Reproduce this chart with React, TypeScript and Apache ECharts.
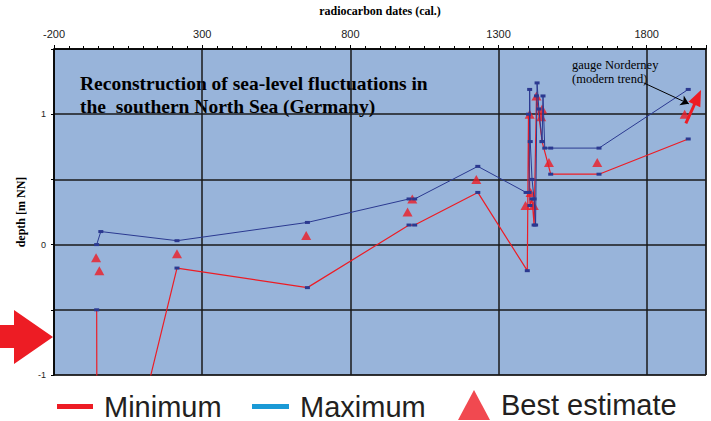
import React, { useEffect, useRef } from "react";
import * as echarts from "echarts";

// ---- data (years cal., depth m NN) ----
const minYears = [-56, -55, 73, 215, 655, 998, 1017, 1230, 1397, 1401, 1406, 1413, 1420, 1428, 1447, 1476, 1639, 1940];
const minDepths = [-0.5, -1.6, -1.5, -0.18, -0.33, 0.15, 0.15, 0.4, -0.2, 1.0, 0.3, 0.35, 0.15, 1.14, 0.79, 0.54, 0.54, 0.81];

const maxYears = [-56, -42, 215, 655, 998, 1017, 1230, 1393, 1403, 1405, 1407, 1413, 1420, 1425, 1430, 1436, 1447, 1450, 1456, 1476, 1639, 1940];
const maxDepths = [0.0, 0.1, 0.03, 0.17, 0.35, 0.35, 0.6, 0.4, 0.4, 1.19, 0.79, 0.5, 0.35, 0.15, 1.24, 1.04, 0.79, 1.14, 0.74, 0.74, 0.74, 1.19];

const bestYears = [-58, -47, 215, 651, 993, 1009, 1225, 1391, 1408, 1419, 1405, 1428, 1447, 1444, 1470, 1633, 1928];
const bestDepths = [-0.1, -0.2, -0.07, 0.07, 0.25, 0.35, 0.5, 0.3, 0.4, 0.3, 1.0, 1.14, 1.04, 0.98, 0.63, 0.63, 1.0];

// annotation arrows (year, depth)
const gaugeArrow = [[1790, 1.24], [1942, 1.08]];
const trendArrow = [[1932, 0.93], [1972, 1.13]];

const xTickLabels = ["-200", "300", "800", "1300", "1800"];
const yTickLabels = ["-1", "0", "1"];

const zip = (xs: number[], ys: number[]) => xs.map((x, i) => [x, ys[i]]);

export default function App() {
  const ref = useRef<HTMLDivElement>(null);
  useEffect(() => {
    if (!ref.current) return;
    const chart = echarts.init(ref.current, null, { renderer: "svg" });
    const navy = "#2b3990";
    const red = "#ed1c24";
    const gridC = "#1a1a1a";
    const serif = "'Liberation Serif', 'Times New Roman', serif";
    const legendText = { fontSize: 29, fontFamily: "Liberation Sans, Arial, sans-serif", color: "#231f20", padding: [0, 0, 0, 6] };
    chart.setOption({
      animation: false,
      backgroundColor: "#ffffff",
      grid: { left: 54, right: 5, top: 47, bottom: 46, show: true, backgroundColor: "#98b4da", borderColor: "#000", borderWidth: 1 },
      xAxis: [
        { type: "value", min: -200, max: 2000, show: false },
        {
          type: "value", min: 0, max: 2200, interval: 500, position: "top",
          name: "radiocarbon dates (cal.)", nameLocation: "middle", nameGap: 32,
          nameTextStyle: { fontFamily: serif, fontWeight: "bold", fontSize: 12, color: "#000" },
          axisLine: { show: true, onZero: false, lineStyle: { color: "#000", width: 1.5 } },
          axisTick: { show: true, inside: false, length: 4, lineStyle: { color: "#000" } },
          minorTick: { show: true, splitNumber: 10, length: 3, lineStyle: { color: "#000" } },
          axisLabel: {
            margin: 10, fontSize: 11, color: "#222", fontFamily: "Liberation Sans, Arial, sans-serif",
            formatter: (v: number) => {
              const s = String(v - 200);
              return xTickLabels.includes(s) ? s : "";
            },
          },
          splitLine: { show: true, lineStyle: { color: gridC, width: 1.5 } },
        },
      ],
      yAxis: {
        type: "value", min: -1, max: 1.5, interval: 0.5,
        name: "depth [m NN]", nameLocation: "middle", nameGap: 18,
        nameTextStyle: { fontFamily: serif, fontWeight: "bold", fontSize: 12, color: "#000" },
        axisLine: { show: true, onZero: false, lineStyle: { color: "#000", width: 1.5 } },
        axisTick: { show: true, length: 3, lineStyle: { color: "#000" } },
        axisLabel: {
          margin: 8, fontSize: 9, color: "#222", fontFamily: "Liberation Sans, Arial, sans-serif",
          formatter: (v: number) => (yTickLabels.includes(String(v)) ? String(v) : ""),
        },
        splitLine: { show: true, lineStyle: { color: gridC, width: 1.5 } },
      },
      legend: [
        { data: ["Minimum"], left: 57, top: 392, padding: 0, icon: "rect", itemWidth: 36, itemHeight: 5, itemStyle: { color: red }, textStyle: legendText, selectedMode: false },
        { data: ["Maximum"], left: 252, top: 392, padding: 0, icon: "rect", itemWidth: 37, itemHeight: 5, itemStyle: { color: "#1b9ad6" }, textStyle: legendText, selectedMode: false },
        { data: ["Best estimate"], left: 458, top: 390, padding: 0, icon: "triangle", itemWidth: 32, itemHeight: 30, itemStyle: { color: red }, textStyle: { ...legendText, padding: [2, 0, 0, 6] }, selectedMode: false },
      ],
      series: [
        {
          name: "Minimum", type: "line", xAxisIndex: 0, data: zip(minYears, minDepths),
          symbol: "rect", symbolSize: [5, 3], itemStyle: { color: navy },
          lineStyle: { color: red, width: 1.2 }, clip: true, silent: true,
          markLine: {
            silent: true, symbol: ["none", "triangle"], symbolSize: [13, 16], label: { show: false },
            lineStyle: { color: red, width: 3, type: "solid" },
            data: [[{ coord: trendArrow[0] }, { coord: trendArrow[1] }]],
          },
        },
        {
          name: "Maximum", type: "line", xAxisIndex: 0, data: zip(maxYears, maxDepths),
          symbol: "rect", symbolSize: [5, 3], itemStyle: { color: navy },
          lineStyle: { color: navy, width: 1 }, clip: true, silent: true,
          markLine: {
            silent: true, symbol: ["none", "arrow"], symbolSize: 8, label: { show: false },
            lineStyle: { color: "#000", width: 1, type: "solid" },
            data: [[{ coord: gaugeArrow[0] }, { coord: gaugeArrow[1] }]],
          },
        },
        {
          name: "Best estimate", type: "scatter", xAxisIndex: 0, data: zip(bestYears, bestDepths),
          symbol: "triangle", symbolSize: [10, 9], itemStyle: { color: red }, silent: true,
        },
      ],
      graphic: [
        {
          type: "text", x: 80, y: 83,
          style: { text: "Reconstruction of sea-level fluctuations in", font: `bold 19.5px ${serif}`, fill: "#000", verticalAlign: "middle" },
        },
        {
          type: "text", x: 80, y: 106,
          style: { text: "the  southern North Sea (Germany)", font: `bold 19.5px ${serif}`, fill: "#000", verticalAlign: "middle" },
        },
        {
          type: "text", x: 572, y: 65,
          style: { text: "gauge Norderney", font: `12.5px ${serif}`, fill: "#000", verticalAlign: "middle" },
        },
        {
          type: "text", x: 572, y: 79,
          style: { text: "(modern trend)", font: `12.5px ${serif}`, fill: "#000", verticalAlign: "middle" },
        },
        {
          type: "polygon",
          shape: { points: [[0, 325], [14, 325], [14, 310], [53, 337], [14, 364], [14, 348], [0, 348]] },
          style: { fill: red },
        },
      ],
    });
    return () => chart.dispose();
  }, []);
  return <div ref={ref} style={{ width: 711, height: 421, position: "absolute", left: 0, top: 0 }} />;
}
